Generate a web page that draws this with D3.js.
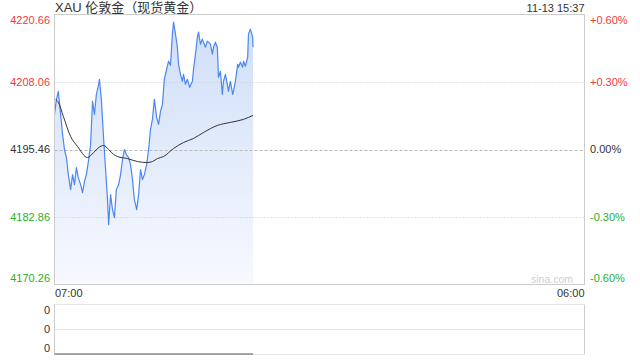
<!DOCTYPE html>
<html>
<head>
<meta charset="utf-8">
<script src="https://cdn.jsdelivr.net/npm/d3@7"></script>
<style>
body { margin: 0; background: #fff; }
text { font-family: Arial, "Liberation Sans", "Noto Sans CJK SC", sans-serif; }
</style>
</head>
<body>
<div id="chart"></div>
<script>
var titleText = "XAU 伦敦金（现货黄金）";
var stampText = "11-13 15:37";
var prevClose = 4195.46;
var priceTicks = [4220.66, 4208.06, 4195.46, 4182.86, 4170.26];
var pctTicks = ["+0.60%", "+0.30%", "0.00%", "-0.30%", "-0.60%"];
var timeLabels = ["07:00", "06:00"];
var sessionMinutes = 1380;

// minutes after 07:00
var minutes = [0,5,10,16,21,26,31,36,42,47,
  52,57,62,68,73,78,83,89,94,99,
  104,109,115,117,122,128,133,138,141,146,
  151,156,161,167,172,177,182,187,193,198,
  203,208,214,219,224,229,234,240,245,250,
  255,260,266,271,276,281,286,292,297,302,
  307,310,315,320,323,328,333,336,341,346,
  352,359,362,367,372,375,380,385,393,398,
  406,411,414,419,424,427,432,437,440,445,
  450,453,458,464,466,471,477,479,484,490,
  492,497,503,505,510,516,517];
var prices = [4202.01,4204.82,4206.32,4202.01,4198.27,4195.46,4193.96,4190.78,4187.97,4190.78,
  4188.91,4192.09,4190.22,4188.91,4187.41,4189.47,4190.78,4193.59,4196.40,4204.45,
  4202.01,4205.76,4207.63,4208.57,4204.82,4197.33,4191.72,4186.10,4181.42,4187.03,
  4184.23,4182.73,4187.97,4188.91,4190.78,4193.59,4195.46,4194.52,4193.96,4192.65,
  4189.84,4186.10,4184.23,4187.03,4191.72,4189.84,4190.78,4192.65,4195.46,4199.20,
  4201.08,4204.82,4201.45,4200.14,4202.57,4203.89,4208.57,4210.44,4211.94,4211.19,
  4216.99,4219.24,4216.99,4214.56,4211.37,4209.50,4208.19,4209.50,4207.63,4208.57,
  4207.07,4208.19,4210.44,4213.25,4216.43,4217.37,4215.12,4216.06,4214.56,4215.68,
  4215.12,4213.25,4214.56,4215.49,4214.56,4208.94,4210.06,4205.76,4208.19,4209.50,
  4207.63,4206.32,4208.19,4205.76,4206.32,4208.19,4211.37,4210.81,4211.75,4210.81,
  4211.94,4211.00,4212.69,4216.99,4217.93,4216.43,4214.56];

var avgMinutes = [3,10,23,42,60,86,102,115,128,141,154,164,190,216,242,255,268,284,310,336,362,388,424,458,492,517];
var avgPrices = [4204.82,4204.26,4201.64,4197.89,4196.02,4193.96,4194.90,4195.83,4196.21,4195.46,4194.52,4194.15,4193.77,
  4193.21,4193.03,4193.21,4193.77,4194.15,4195.65,4196.77,4197.52,4198.64,4199.95,4200.52,4201.08,4201.83];

var volMinutes = [0, 517];
var volumes = [0, 0];
var volTicks = ["0", "0", "0"];

var W = 640, H = 360;
var pLeft = 54.5, pRight = 584.5, pTop = 14.5, pBottom = 284.5;
var vTop = 304.5, vBottom = 354.5;

var red = "#f23a3a", green = "#2cae2c", dark = "#333";

var svg = d3.select("#chart")
  .append("svg")
    .attr("width", W)
    .attr("height", H);

var x = d3.scaleLinear().domain([0, sessionMinutes]).range([pLeft, pRight]);
var y = d3.scaleLinear().domain([priceTicks[4], priceTicks[0]]).range([pBottom, pTop]);
var yv = d3.scaleLinear().domain([0, 1]).range([vBottom, vTop]);

var colorFor = function(v) {
  if (v > prevClose + 0.001) return red;
  if (v < prevClose - 0.001) return green;
  return dark;
};

// gradient for area
var grad = svg.append("defs").append("linearGradient")
  .attr("id", "fillGrad")
  .attr("gradientUnits", "userSpaceOnUse")
  .attr("x1", 0).attr("x2", 0)
  .attr("y1", pTop).attr("y2", pBottom);
grad.append("stop").attr("offset", "0%").attr("stop-color", "#ccdcf8").attr("stop-opacity", 0.95);
grad.append("stop").attr("offset", "100%").attr("stop-color", "#f7f9fe").attr("stop-opacity", 1);

// title + stamp
svg.append("text")
  .attr("x", 55).attr("y", 12)
  .attr("font-size", 13)
  .attr("fill", dark)
  .text(titleText);
svg.append("text")
  .attr("x", pRight).attr("y", 11.5)
  .attr("text-anchor", "end")
  .attr("font-size", 11)
  .attr("fill", dark)
  .text(stampText);

// area first, grid drawn over it
var pts = minutes.map(function(m, i) { return {m: m, p: prices[i]}; });
var avgPts = avgMinutes.map(function(m, i) { return {m: m, p: avgPrices[i]}; });

svg.append("path")
  .datum(pts)
  .attr("fill", "url(#fillGrad)")
  .attr("d", d3.area()
    .x(function(d) { return x(d.m) })
    .y0(pBottom)
    .y1(function(d) { return y(d.p) })
  );

// price grid
priceTicks.forEach(function(v, i) {
  if (i == 0 || i == 4) return;
  svg.append("line")
    .attr("x1", pLeft).attr("x2", pRight)
    .attr("y1", Math.round(y(v)) + 0.5).attr("y2", Math.round(y(v)) + 0.5)
    .attr("stroke", i == 2 ? "#b8b8b8" : "#ccc")
    .attr("stroke-dasharray", i == 2 ? "3,2" : "1,2");
});

svg.append("path")
  .datum(pts)
  .attr("fill", "none")
  .attr("stroke", "#4a88f0")
  .attr("stroke-width", 1.2)
  .attr("stroke-linejoin", "round")
  .attr("d", d3.line()
    .x(function(d) { return x(d.m) })
    .y(function(d) { return y(d.p) })
  );

svg.append("path")
  .datum(avgPts)
  .attr("fill", "none")
  .attr("stroke", "#333")
  .attr("stroke-width", 1)
  .attr("d", d3.line()
    .curve(d3.curveMonotoneX)
    .x(function(d) { return x(d.m) })
    .y(function(d) { return y(d.p) })
  );

// frame
svg.append("rect")
  .attr("x", pLeft).attr("y", pTop)
  .attr("width", pRight - pLeft).attr("height", pBottom - pTop)
  .attr("fill", "none")
  .attr("stroke", "#ccc");

// watermark
svg.append("text")
  .attr("x", 573).attr("y", 283)
  .attr("text-anchor", "end")
  .attr("font-size", 10.5)
  .attr("fill", "#d0d0d0")
  .text("sina.com");

// y labels left and right
priceTicks.forEach(function(v, i) {
  var ty = Math.min(Math.max(y(v), 20), 278);
  svg.append("text")
    .attr("x", 50).attr("y", ty)
    .attr("dy", "0.36em")
    .attr("text-anchor", "end")
    .attr("font-size", 11)
    .attr("fill", colorFor(v))
    .text(v.toFixed(2));
  svg.append("text")
    .attr("x", 590).attr("y", ty)
    .attr("dy", "0.36em")
    .attr("font-size", 11)
    .attr("fill", colorFor(v))
    .text(pctTicks[i]);
});

// time labels
svg.append("text")
  .attr("x", 55).attr("y", 297)
  .attr("font-size", 11)
  .attr("fill", dark)
  .text(timeLabels[0]);
svg.append("text")
  .attr("x", pRight).attr("y", 297)
  .attr("text-anchor", "end")
  .attr("font-size", 11)
  .attr("fill", dark)
  .text(timeLabels[1]);

// volume panel
[1, 0.5, 0].forEach(function(v, i) {
  svg.append("line")
    .attr("x1", pLeft).attr("x2", pRight)
    .attr("y1", yv(v)).attr("y2", yv(v))
    .attr("stroke", "#ccc")
    .attr("stroke-dasharray", "1,1");
  svg.append("text")
    .attr("x", 50).attr("y", Math.min(Math.max(yv(v), 310), 348))
    .attr("dy", "0.36em")
    .attr("text-anchor", "end")
    .attr("font-size", 11)
    .attr("fill", dark)
    .text(volTicks[i]);
});
svg.append("line")
  .attr("x1", pLeft).attr("x2", pLeft)
  .attr("y1", vTop).attr("y2", vBottom)
  .attr("stroke", "#ccc");
svg.append("line")
  .attr("x1", pRight).attr("x2", pRight)
  .attr("y1", vTop).attr("y2", vBottom)
  .attr("stroke", "#ccc");

svg.append("path")
  .datum(volMinutes.map(function(m, i) { return {m: m, v: volumes[i]}; }))
  .attr("fill", "none")
  .attr("stroke", "#555")
  .attr("stroke-width", 1)
  .attr("d", d3.line()
    .x(function(d) { return x(d.m) })
    .y(function(d) { return yv(d.v) - 0.5 })
  );
</script>
</body>
</html>
